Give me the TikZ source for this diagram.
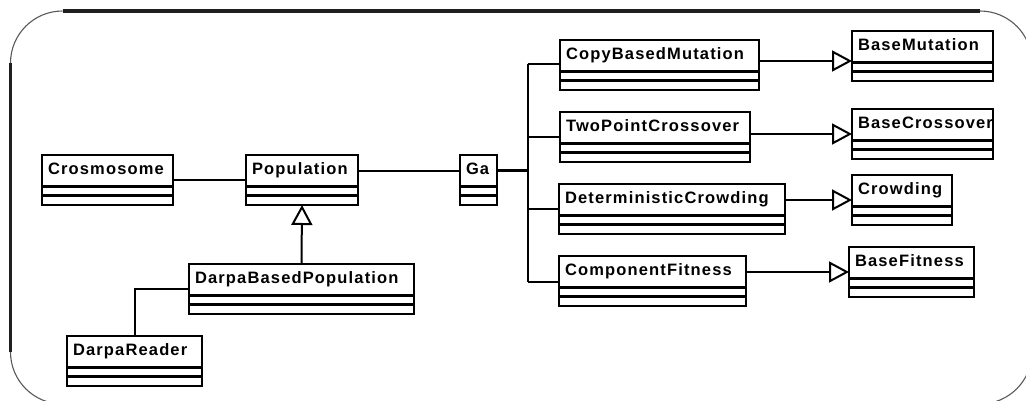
\documentclass[tikz,border=0pt]{standalone}
\usepackage{fontspec}
\setmainfont{Liberation Sans}
\newfontfamily\umlfont{Liberation Sans}[LetterSpace=7]
\usetikzlibrary{arrows.meta}

\tikzset{
  classbox/.style={draw=black, line width=2.4pt, fill=white, inner sep=0pt, outer sep=0pt,
                   minimum height=50pt, rectangle},
  sepline/.style={draw=black, line width=2.4pt},
  classname/.style={inner sep=0pt, outer sep=0pt, font=\umlfont\bfseries\fontsize{16.5}{19}\selectfont},
  assoc/.style={draw=black, line width=2pt},
  busline/.style={draw=black, line width=2pt},
  gabus/.style={draw=black, line width=3pt},
  inherit/.style={draw=black, line width=2pt,
                  -{Triangle[open, length=20pt, width=21pt, fill=white]}},
  frameline/.style={draw=black!88, line width=3.2pt},
  framearc/.style={draw=black!65, line width=1.1pt},
}

% a UML class: name, left, top, width, title
\newcommand\umlclass[5]{%
  \node[classbox, minimum width=#4pt, anchor=north west] (#1) at (#2,#3) {};
  \draw[sepline] ([yshift=-31.5pt]#1.north west) -- ([yshift=-31.5pt]#1.north east);
  \draw[sepline] ([yshift=-40.5pt]#1.north west) -- ([yshift=-40.5pt]#1.north east);
  \node[classname, anchor=base west] (#1-name) at ([xshift=6pt,yshift=-19.5pt]#1.north west) {#5};
}

\begin{document}
\begin{tikzpicture}[x=1pt, y=-1pt]
  \useasboundingbox (0,0) rectangle (1026,401);
  \clip (0,0) rectangle (1026,401);

  % rounded outer frame
  \draw[frameline] (62.5,11) -- (980,11);
  \draw[frameline] (10.5,63) -- (10.5,352);
  \draw[framearc] (10.5,63) arc[start angle=180, end angle=90, radius=52pt];
  \draw[framearc] (10.5,352) arc[start angle=180, end angle=270, radius=52pt];
  \draw[framearc] (980,11) arc[start angle=90, end angle=0, radius=52pt];
  \draw[framearc] (1032,352) arc[start angle=0, end angle=-90, radius=52pt];

  % classes
  \umlclass{crom}{42}{155}{131}{Crosmosome}
  \umlclass{pop}{246}{155}{112}{Population}
  \umlclass{dbp}{189}{264}{225}{DarpaBasedPopulation}
  \umlclass{dreader}{67}{336}{135}{DarpaReader}
  \umlclass{ga}{460}{155}{37}{Ga}
  \umlclass{cbm}{560}{40}{199}{CopyBasedMutation}
  \umlclass{tpc}{560}{112}{190}{TwoPointCrossover}
  \umlclass{dc}{559}{184}{226}{DeterministicCrowding}
  \umlclass{cf}{559}{256}{187}{ComponentFitness}
  \umlclass{bmut}{852}{31}{141}{BaseMutation}
  \umlclass{bcross}{852}{109}{141}{BaseCrossover}
  \umlclass{crowd}{852}{175}{100}{Crowding}
  \umlclass{bfit}{849}{247}{125}{BaseFitness}

  % associations on the left
  \draw[assoc] (crom.east) -- (pop.west);
  \draw[assoc] (pop.east |- 0,171) -- (ga.west |- 0,171);
  \draw[assoc] (dbp.west |- 0,289) -| (dreader.north);

  % bus from Ga to the operators
  \coordinate (busga) at (527.5,171);
  \coordinate (bustop) at (527.5,64);
  \coordinate (bustpc) at (527.5,137);
  \coordinate (busdc) at (527.5,209);
  \coordinate (busbot) at (527.5,282);
  \draw[gabus] (ga.east |- busga) -- (busga);
  \draw[busline] (bustop) -- (busbot);
  \draw[busline] (bustop) -- (cbm.west |- bustop);
  \draw[busline] (bustpc) -- (tpc.west |- bustpc);
  \draw[busline] (busdc) -- (dc.west |- busdc);
  \draw[busline] (busbot) -- (cf.west |- busbot);

  % generalisations
  \draw[inherit] (dbp.north) -- (pop.south);
  \draw[inherit] (cbm.east |- 0,61) -- (bmut.west |- 0,61);
  \draw[inherit] (tpc.east |- 0,134) -- (bcross.west |- 0,134);
  \draw[inherit] (dc.east |- 0,200) -- (crowd.west |- 0,200);
  \draw[inherit] (cf.east |- 0,272) -- (bfit.west |- 0,272);
\end{tikzpicture}
\end{document}
